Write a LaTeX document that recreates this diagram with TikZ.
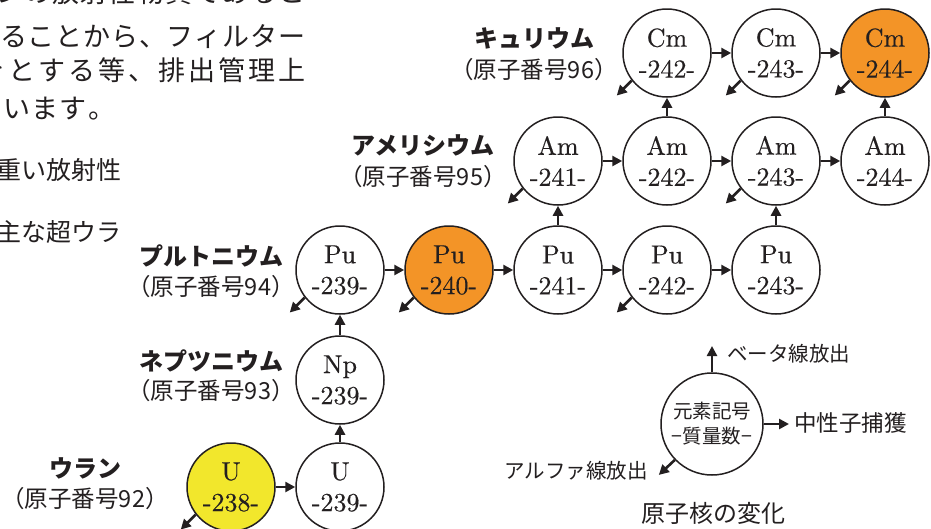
\documentclass[tikz,border=0pt]{standalone}
\usepackage{fontspec}
\newfontfamily\jp{Noto Sans CJK JP}
\newfontfamily\nucfont{lmroman10-regular.otf}[FakeBold=0.4]
\usetikzlibrary{arrows.meta}
\definecolor{ink}{HTML}{231F20}
\definecolor{uyellow}{HTML}{F2E72C}
\definecolor{porange}{HTML}{F39427}
\begin{document}
\begin{tikzpicture}[x=1pt,y=-1pt,
  nuc/.style={circle, draw=ink, line width=1.5pt, minimum size=88pt, inner sep=0pt,
    align=center, font=\nucfont\fontsize{26}{31}\selectfont, text=ink, fill=white},
  arr/.style={draw=ink, line width=2.6pt, -{Triangle[length=10pt,width=10pt]}},
  ttl/.style={font=\jp\bfseries\fontsize{24}{24}\selectfont, text=ink, inner sep=0pt},
  sub/.style={font=\jp\fontsize{23.5}{23.5}\selectfont, text=ink, inner sep=0pt},
  para/.style={font=\jp\fontsize{27}{27}\selectfont, text=ink, inner sep=0pt, anchor=base west},
  item/.style={font=\jp\fontsize{25}{25}\selectfont, text=ink, inner sep=0pt, anchor=base west},
  leg/.style={font=\jp\fontsize{20.5}{20.5}\selectfont, text=ink, inner sep=0pt}]
\useasboundingbox (0,0) rectangle (931,528);
\fill[white] (0,0) rectangle (931,528);

% paragraph text (cropped)
\node[para] (p1) at (-4,2) {\makebox[309pt][s]{ン\hfil の\hfil 放\hfil 射\hfil 性\hfil 物\hfil 質\hfil で\hfil あ\hfil る\hfil こ}};
\node[para] (p2) at (0,46) {\makebox[305pt][s]{る\hfil こ\hfil と\hfil か\hfil ら\hfil 、\hfil フ\hfil ィ\hfil ル\hfil タ\hfil ー}};
\node[para] (p3) at (-22,80) {\makebox[327pt][s]{を\hfil と\hfil す\hfil る\hfil 等\hfil 、\hfil 排\hfil 出\hfil 管\hfil 理\hfil 上}};
\node[para] (p4) at (3,118) {\makebox[112pt][s]{い\hfil ま\hfil す\hfil 。}};
\node[item] (p5) at (-4,179) {重い放射性};
\node[item] (p6) at (-4,241) {主な超ウラ};

% nuclides
\node[nuc, fill=uyellow] (u238) at (231,487) {U\\-238-};
\node[nuc] (u239) at (340,487) {U\\-239-};
\node[nuc] (np239) at (340,380) {Np\\-239-};
\node[nuc] (pu239) at (340,270) {Pu\\-239-};
\node[nuc, fill=porange] (pu240) at (449,270) {Pu\\-240-};
\node[nuc] (pu241) at (558,270) {Pu\\-241-};
\node[nuc] (pu242) at (667,270) {Pu\\-242-};
\node[nuc] (pu243) at (776,270) {Pu\\-243-};
\node[nuc] (am241) at (558,161) {Am\\-241-};
\node[nuc] (am242) at (667,161) {Am\\-242-};
\node[nuc] (am243) at (776,161) {Am\\-243-};
\node[nuc] (am244) at (885,161) {Am\\-244-};
\node[nuc] (cm242) at (667,53) {Cm\\-242-};
\node[nuc] (cm243) at (776,53) {Cm\\-243-};
\node[nuc, fill=porange] (cm244) at (885,53) {Cm\\-244-};

% neutron capture
\draw[arr] (u238) -- (u239);
\draw[arr] (pu239) -- (pu240);
\draw[arr] (pu240) -- (pu241);
\draw[arr] (pu241) -- (pu242);
\draw[arr] (pu242) -- (pu243);
\draw[arr] (am241) -- (am242);
\draw[arr] (am242) -- (am243);
\draw[arr] (am243) -- (am244);
\draw[arr] (cm242) -- (cm243);
\draw[arr] (cm243) -- (cm244);
% beta decay
\draw[arr] (u239) -- (np239);
\draw[arr] (np239) -- (pu239);
\draw[arr] (pu241) -- (am241);
\draw[arr] (pu243) -- (am243);
\draw[arr] (am242) -- (cm242);
\draw[arr] (am244) -- (cm244);
% alpha decay
\foreach \n in {u238,pu239,pu240,am241,pu242,am243,cm242,cm243,cm244}{
  \draw[arr] (\n.218) -- ++(-15,15);
}

% element labels
\node[ttl] (cmT) at (534,38) {キュリウム};
\node[sub] (cmS) at (534,70) {（原子番号96）};
\node[ttl] (amT) at (423,145) {アメリシウム};
\node[sub] (amS) at (423,177) {（原子番号95）};
\node[ttl] (puT) at (211,256) {プルトニウム};
\node[sub] (puS) at (211,287) {（原子番号94）};
\node[ttl] (npT) at (211,361) {ネプツニウム};
\node[sub] (npS) at (211,391) {（原子番号93）};
\node[ttl] (uT) at (85,468) {ウラン};
\node[sub] (uS) at (85,499) {（原子番号92）};

% legend
\node[circle, draw=ink, line width=1.5pt, minimum size=102pt, inner sep=0pt, align=center,
  font=\jp\fontsize{19.5}{25}\selectfont, text=ink] (key) at (712,424) {元素記号\\−質量数−};
\coordinate (betaEnd) at (712,346);
\coordinate (nEnd) at (789,424);
\draw[arr] (key.north) -- (betaEnd);
\draw[arr] (key.east) -- (nEnd);
\draw[arr] (key.224) -- ++(-16,15) coordinate (aEnd);
\node[leg, anchor=west] (betaL) at (727,354) {ベータ線放出};
\node[leg, anchor=west, font=\jp\fontsize{22.5}{22.5}\selectfont] (nL) at (794,423) {中性子捕獲};
\node[leg, anchor=east] (aL) at (648,471) {アルファ線放出};
\node[leg, font=\jp\fontsize{24}{24}\selectfont] (title) at (713,513) {原子核の変化};
\end{tikzpicture}
\end{document}
